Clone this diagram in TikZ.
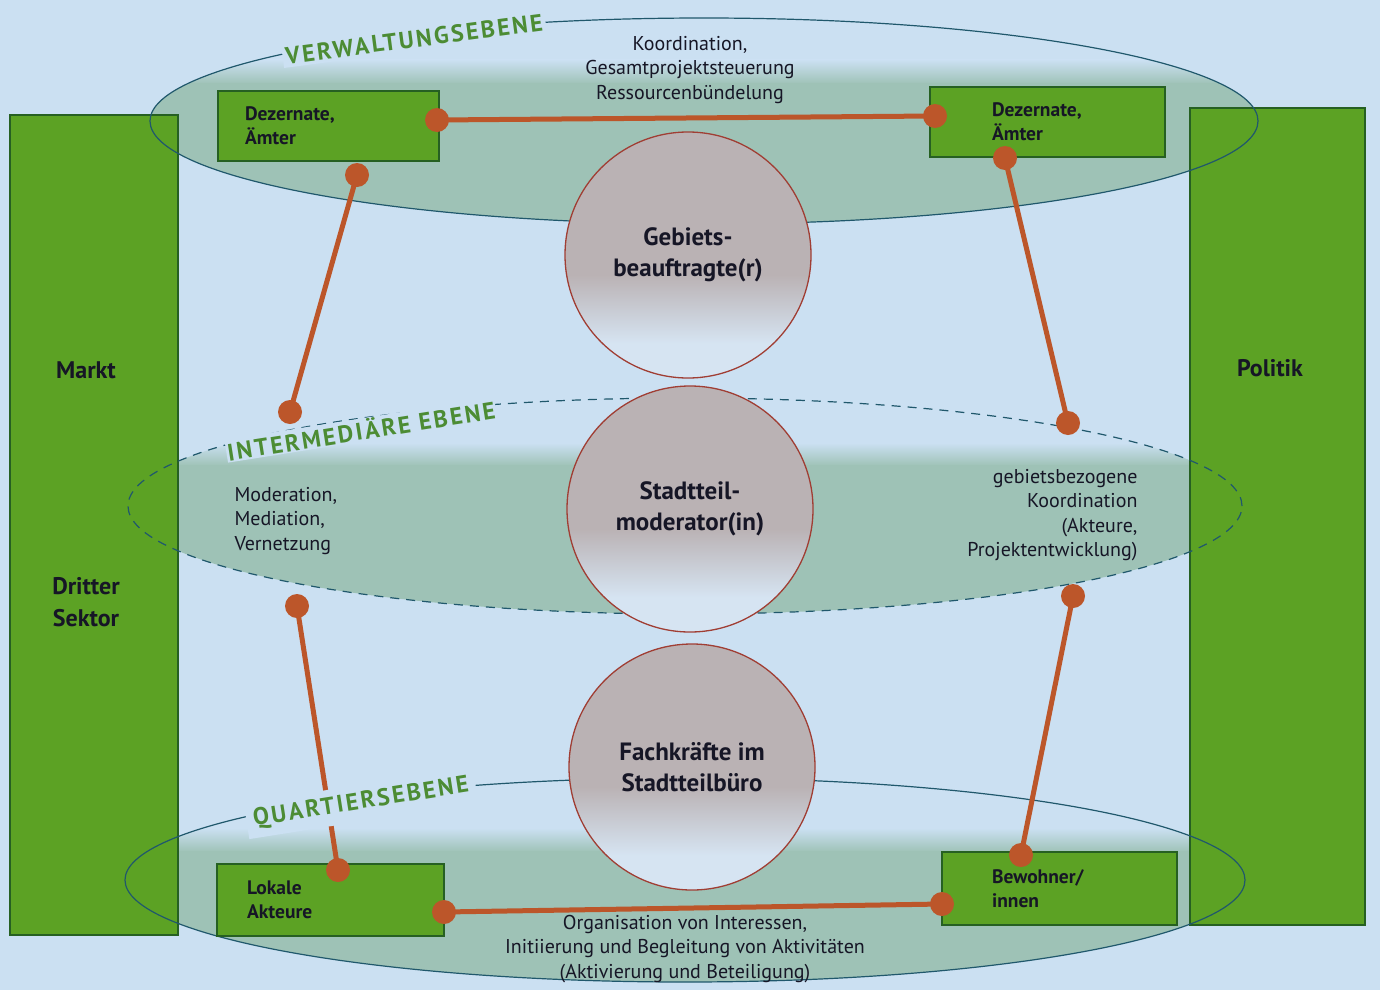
\documentclass[tikz,border=0pt]{standalone}
\usepackage{fontspec}
\setmainfont{PT Sans}
\definecolor{bgc}{RGB}{203,224,242}
\definecolor{lvl}{RGB}{158,194,182}
\definecolor{grn}{RGB}{92,162,36}
\definecolor{grnd}{RGB}{38,96,34}
\definecolor{brn}{RGB}{188,86,42}
\definecolor{rim}{RGB}{160,62,52}
\definecolor{lineblue}{RGB}{32,88,108}
\definecolor{lab}{RGB}{76,140,52}
\definecolor{ink}{RGB}{22,22,38}
\definecolor{cgray}{RGB}{186,178,180}
\definecolor{clight}{RGB}{214,228,242}
\pgfdeclareverticalshading{circshade}{100bp}{color(0bp)=(clight); color(32bp)=(clight); color(46bp)=(cgray); color(100bp)=(cgray)}
\tikzset{
  bar/.style={draw=grnd, fill=grn, line width=1.2pt},
  lvlbox/.style={draw=grnd, fill=grn, line width=1.2pt, align=left, text=ink,
    font=\bfseries\fontsize{19.5}{24}\selectfont},
  dot/.style={circle, fill=brn, inner sep=0pt, minimum size=24pt},
  conn/.style={draw=brn, line width=5pt},
  circ/.style={circle, draw=rim, line width=1.3pt, shade, shading=circshade, inner sep=0pt,
    minimum size=246pt, align=center, text=ink, font=\bfseries\fontsize{25}{31}\selectfont},
  lvllabel/.style={fill=bgc, text=lab, inner sep=3pt,
    font=\bfseries\fontsize{24}{24}\selectfont\addfontfeatures{LetterSpace=10}},
  desc/.style={text=ink, font=\fontsize{20}{24.5}\selectfont},
  side/.style={text=ink, align=center, font=\bfseries\fontsize{24}{32}\selectfont},
  ell/.style={draw=lineblue, line width=1.2pt}
}
\begin{document}
\begin{tikzpicture}[x=1pt,y=-1pt]
\useasboundingbox (0,0) rectangle (1380,990);
\fill[bgc] (0,0) rectangle (1380,990);
% ellipse fills
\begin{scope}
  \clip (704,121) ellipse [x radius=554pt, y radius=103pt];
  \shade[top color=bgc, bottom color=lvl] (100,60) rectangle (1300,84);
  \fill[lvl] (100,83) rectangle (1300,240);
\end{scope}
\begin{scope}
  \clip (685,506) ellipse [x radius=557pt, y radius=108pt];
  \shade[top color=bgc, bottom color=lvl] (100,443) rectangle (1300,466);
  \fill[lvl] (100,465) rectangle (1300,630);
\end{scope}
\begin{scope}
  \clip (685,880) ellipse [x radius=560pt, y radius=102pt];
  \shade[top color=bgc, bottom color=lvl] (100,828) rectangle (1300,852);
  \fill[lvl] (100,851) rectangle (1300,1000);
\end{scope}
% side bars
\node[bar, minimum width=168pt, minimum height=820pt, inner sep=0pt] (lbar) at (94,525) {};
\node[bar, minimum width=175pt, minimum height=817pt, inner sep=0pt] (rbar) at (1277.5,516.5) {};
\node[side] (markt) at (86,370) {Markt};
\node[side] (dritter) at (86,602) {Dritter\\Sektor};
\node[side] (politik) at (1270,368) {Politik};
% ellipse outlines
\draw[ell] (704,121) ellipse [x radius=554pt, y radius=103pt];
\draw[ell, dash pattern=on 9pt off 7pt] (685,506) ellipse [x radius=557pt, y radius=108pt];
\draw[ell] (685,880) ellipse [x radius=560pt, y radius=102pt];
% boxes
\node[lvlbox, inner xsep=27pt, text width=167pt, minimum height=70pt] (tl) at (328.5,126) {Dezernate,\\Ämter};
\node[lvlbox, inner xsep=62pt, text width=111pt, minimum height=70pt] (tr) at (1047.5,122) {Dezernate,\\Ämter};
\node[lvlbox, inner xsep=30pt, text width=167pt, minimum height=72pt] (bl) at (330.5,900) {Lokale\\Akteure};
\node[lvlbox, inner xsep=50pt, text width=135pt, minimum height=73pt] (br) at (1059.5,888.5) {Bewohner/\\innen};
% descriptions
\node[desc, align=center] (dtop) at (690,70) {Koordination,\\Gesamtprojektsteuerung\\Ressourcenbündelung};
\node[desc, align=center] (dbot) at (685,949) {Organisation von Interessen,\\Initiierung und Begleitung von Aktivitäten\\(Aktivierung und Beteiligung)};
\node[desc, align=left, anchor=west] (dleft) at (231,521) {Moderation,\\Mediation,\\Vernetzung};
\node[desc, align=right, anchor=east] (dright) at (1141,515) {gebietsbezogene\\Koordination\\(Akteure,\\Projektentwicklung)};
% dots
\node[dot] (p1) at (437,120) {};
\node[dot] (p2) at (935,116) {};
\node[dot] (p3) at (357,175) {};
\node[dot] (p4) at (290,412) {};
\node[dot] (p5) at (1005,158) {};
\node[dot] (p6) at (1068,423) {};
\node[dot] (p7) at (297,606) {};
\node[dot] (p8) at (338,870) {};
\node[dot] (p9) at (1073,596) {};
\node[dot] (p10) at (1021,855) {};
\node[dot] (p11) at (444,912) {};
\node[dot] (p12) at (942,904) {};
% connectors
\draw[conn] (p1.center) -- (p2.center);
\draw[conn] (p3.center) -- (p4.center);
\draw[conn] (p5.center) -- (p6.center);
\draw[conn] (p7.center) -- (p8.center);
\draw[conn] (p9.center) -- (p10.center);
\draw[conn] (p11.center) -- (p12.center);
% level labels
\node[lvllabel, rotate=7.5] (lv1) at (414,39) {VERWALTUNGSEBENE};
\node[lvllabel, rotate=9, inner sep=1pt] (lv2) at (361,430) {INTERMEDIÄRE EBENE};
\node[lvllabel, rotate=9, inner sep=7pt] (lv3) at (361,803) {QUARTIERSEBENE};
% circles
\node[circ] (c1) at (688,255) {Gebiets-\\beauftragte(r)};
\node[circ] (c2) at (690,509) {Stadtteil-\\moderator(in)};
\node[circ] (c3) at (692,767) {Fachkräfte im\\Stadtteilbüro};
\end{tikzpicture}
\end{document}
